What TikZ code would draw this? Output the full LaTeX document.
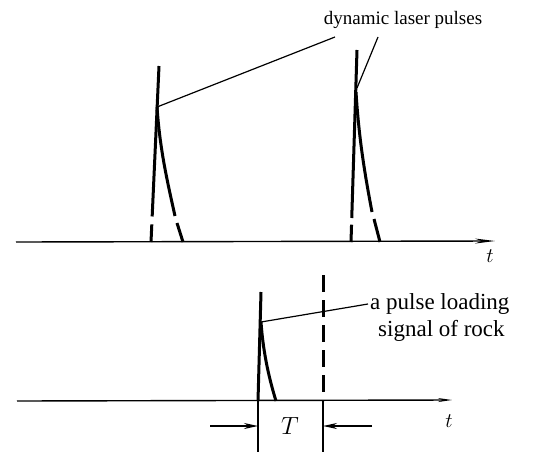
\documentclass[tikz,border=0pt]{standalone}
\usepackage{fontspec}
\setmainfont{Liberation Serif}
\usetikzlibrary{arrows.meta,calc}
\begin{document}
\begin{tikzpicture}[x=1pt,y=-1pt,
  axis/.style={line width=1.4pt},
  pulse/.style={line width=3pt},
  thinv/.style={line width=1.5pt},
  leader/.style={line width=1.2pt},
  dashv/.style={line width=3pt, dash pattern=on 17pt off 8pt},
  toplbl/.style={font=\fontsize{19}{22}\selectfont, inner sep=0pt},
  botlbl/.style={font=\fontsize{23}{27}\selectfont, inner sep=0pt},
  tlbl/.style={font=\fontsize{20}{24}\selectfont, inner sep=0pt},
  Tlbl/.style={font=\fontsize{24}{28}\selectfont, inner sep=0pt},
  marr/.style={line width=1.5pt, -{Stealth[length=14pt,width=6pt]}}
  ]
\useasboundingbox (0,0) rectangle (537,452);

% ---------- top axis ----------
\coordinate (a1s) at (16,242);
\coordinate (a1e) at (495,241);
\draw[axis, -{Stealth[length=20pt,width=5pt]}] (a1s) -- (a1e);
\node[tlbl] (t1) at (490,256) {$t$};

% ---------- pulse 1 ----------
\coordinate (p1b) at (151,242);
\coordinate (p1t) at (159,66);
\coordinate (p1k) at (157,107);
\coordinate (p1g1) at (175,216);
\coordinate (p1g2) at (177,223);
\coordinate (p1e) at (183,242);
\draw[pulse] (p1b) -- ($(p1b)!0.10!(p1t)$);
\draw[pulse] ($(p1b)!0.145!(p1t)$) -- (p1t);
\draw[pulse] (p1k) .. controls (160,150) and (167,180) .. (p1g1);
\draw[pulse] (p1g2) -- (p1e);

% ---------- pulse 2 ----------
\coordinate (p2b) at (351,242);
\coordinate (p2t) at (357,50);
\coordinate (p2k) at (356,92);
\coordinate (p2g1) at (372,212);
\coordinate (p2g2) at (374,219);
\coordinate (p2e) at (380,242);
\draw[pulse] (p2b) -- ($(p2b)!0.09!(p2t)$);
\draw[pulse] ($(p2b)!0.125!(p2t)$) -- (p2t);
\draw[pulse] (p2k) .. controls (359,140) and (365,175) .. (p2g1);
\draw[pulse] (p2g2) -- (p2e);

% ---------- top label ----------
\node[toplbl] (dl) at (403,20) {dynamic laser pulses};
\coordinate (l1) at (335,37);
\coordinate (l2) at (378,37);
\draw[leader] (p1k) -- (l1);
\draw[leader] (357,88) -- (l2);

% ---------- bottom axis ----------
\coordinate (a2s) at (17,401);
\coordinate (a2e) at (452,400);
\draw[axis, -{Stealth[length=14pt,width=4pt]}] (a2s) -- (a2e);
\node[tlbl] (t2) at (449,421) {$t$};

% ---------- pulse 3 ----------
\coordinate (p3b) at (258,401);
\coordinate (p3t) at (261,292);
\coordinate (p3k) at (261,322);
\coordinate (p3e) at (276,401);
\coordinate (p3low) at (258,452);
\draw[pulse] (p3b) -- (p3t);
\draw[pulse] (p3k) .. controls (263,350) and (268,375) .. (p3e);
\draw[thinv] (p3b) -- (p3low);

% ---------- dashed marker ----------
\coordinate (dtop) at (323,275);
\coordinate (dbase) at (323,401);
\coordinate (dlow) at (323,452);
\draw[dashv] (dtop) -- (dbase);
\draw[thinv] (dbase) -- (dlow);

% ---------- bottom label ----------
\node[botlbl, anchor=west] (pl1) at (370,304) {a pulse loading};
\node[botlbl, anchor=west] (pl2) at (378,331) {signal of rock};
\draw[leader] (p3k) -- ([xshift=-2pt]pl1.west);

% ---------- T interval ----------
\coordinate (la) at (210,426);
\coordinate (ra) at (372,426);
\draw[marr] (la) -- (p3b |- la);
\draw[marr] (ra) -- (dbase |- ra);
\node[Tlbl] (T) at (290,426) {$T$};
\end{tikzpicture}
\end{document}
